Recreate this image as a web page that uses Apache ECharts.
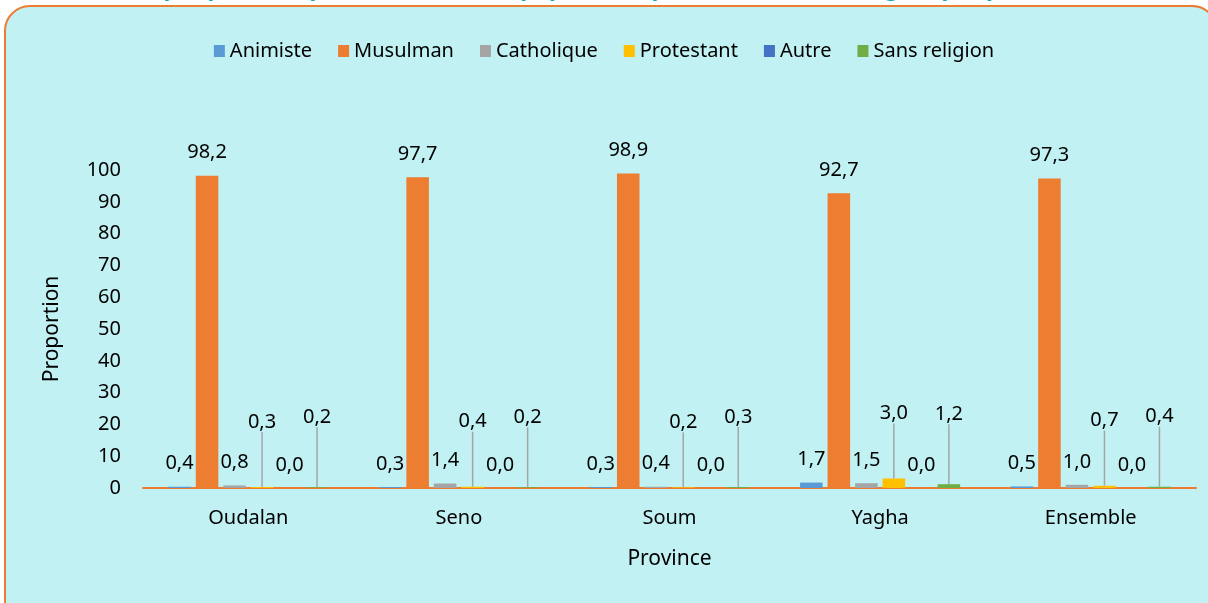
<!DOCTYPE html>
<html>
<head>
<meta charset="utf-8">
<script src="https://cdn.jsdelivr.net/npm/echarts@6/dist/echarts.min.js"></script>
<style>
  html, body { margin: 0; padding: 0; background: #ffffff; }
  #chart { width: 1208px; height: 603px; }
</style>
</head>
<body>
<div id="chart"></div>
<script>

var provinces = ['Oudalan', 'Seno', 'Soum', 'Yagha', 'Ensemble'];

var animiste = [0.4, 0.3, 0.3, 1.7, 0.5];
var musulman = [98.2, 97.7, 98.9, 92.7, 97.3];
var catholique = [0.8, 1.4, 0.4, 1.5, 1.0];
var protestant = [0.3, 0.4, 0.2, 3.0, 0.7];
var autre = [0.0, 0.0, 0.0, 0.0, 0.0];
var sansReligion = [0.2, 0.2, 0.3, 1.2, 0.4];

// title sits above the frame, only its descenders show in the original
var titleText = 'Graphique 3 : Répartition (%) de la population par sexe selon la religion par province';

var FONT = 'Noto Sans';

function fmt(p) {
	return p.value.toFixed(1).replace('.', ',');
}

// bar series, some labels are lifted with a leader line like in the excel original
function makeSeries(name, data, color, lift) {
	var s = {
		name: name,
		type: 'bar',
		data: data,
		itemStyle: { color: color },
		barGap: '22%',
		barCategoryGap: '24%',
		label: {
			show: true,
			position: 'top',
			distance: 13,
			color: '#000',
			fontFamily: FONT,
			fontSize: 20,
			formatter: fmt
		}
	};
	if (lift) {
		s.labelLayout = { dy: lift };
		s.labelLine = { show: true, lineStyle: { color: '#A5A5A5', width: 1.5 } };
	}
	return s;
}

var myChart = echarts.init(document.getElementById('chart'));

var option = {
	backgroundColor: '#ffffff',
	graphic: [
		{
			type: 'rect',
			z: -10,
			shape: { x: 5, y: 6, width: 1212, height: 620, r: 25 },
			style: { fill: '#C1F1F2', stroke: '#ED7D31', lineWidth: 2 }
		},
		{
			type: 'text',
			z: -20,
			x: 604,
			y: 0,
			style: {
				text: titleText,
				align: 'center',
				verticalAlign: 'bottom',
				fill: '#1AA3BE',
				font: 'bold 23px "Noto Sans"'
			}
		}
	],
	legend: {
		top: 36,
		left: 'center',
		itemWidth: 11,
		itemHeight: 12,
		itemGap: 26,
		icon: 'rect',
		textStyle: { fontFamily: FONT, fontSize: 20, color: '#000' },
		data: ['Animiste', 'Musulman', 'Catholique', 'Protestant', 'Autre', 'Sans religion']
	},
	grid: {
		left: 143,
		right: 12,
		top: 170,
		bottom: 115
	},
	xAxis: {
		type: 'category',
		data: provinces,
		name: 'Province',
		nameLocation: 'middle',
		nameGap: 61,
		nameTextStyle: { fontFamily: FONT, fontSize: 21, color: '#000' },
		axisLine: { lineStyle: { color: '#ED7D31', width: 2 } },
		axisTick: { show: false },
		axisLabel: { margin: 20, fontFamily: FONT, fontSize: 20, color: '#000' }
	},
	yAxis: {
		type: 'value',
		min: 0,
		max: 100,
		interval: 10,
		name: 'Proportion',
		nameLocation: 'middle',
		nameGap: 80,
		nameTextStyle: { fontFamily: FONT, fontSize: 21, color: '#000' },
		splitLine: { show: false },
		axisLine: { show: false },
		axisTick: { show: false },
		axisLabel: { margin: 22, fontFamily: FONT, fontSize: 20, color: '#000' }
	},
	series: [
		makeSeries('Animiste', animiste, '#5B9BD5'),
		makeSeries('Musulman', musulman, '#ED7D31'),
		makeSeries('Catholique', catholique, '#A5A5A5'),
		makeSeries('Protestant', protestant, '#FFC000', -42),
		makeSeries('Autre', autre, '#4472C4'),
		makeSeries('Sans religion', sansReligion, '#70AD47', -47)
	]
};

myChart.setOption(option);

</script>
</body>
</html>
